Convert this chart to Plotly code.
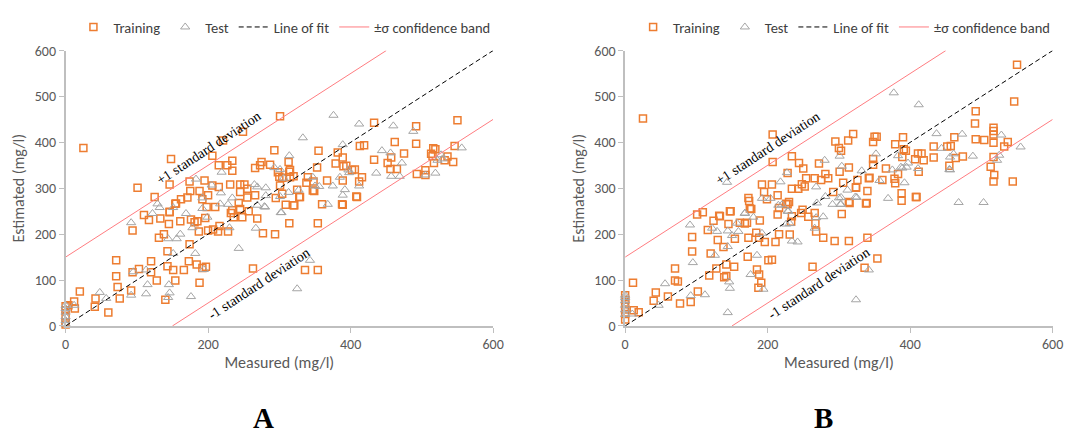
import plotly.graph_objects as go

# ---------------- Panel A data (mg/l) ----------------
a_train_x = [25, 301, 249, 221, 148, 206, 101, 125, 146, 174, 195, 188, 175, 215, 227, 234, 234, 206, 215, 231,
             200, 192, 162, 171, 154, 146, 245, 245, 251, 255, 255, 266, 266, 273, 275, 287, 293, 295, 301, 304,
             314, 313, 315, 320, 320, 325, 329, 338, 348, 353, 355, 349, 360, 367, 379, 382, 389, 390, 389, 389,
             406, 413, 419, 412, 416, 409, 433, 433, 452, 456, 465, 462, 457, 475, 492, 492, 493, 505, 505, 513,
             516, 515, 517, 519, 532, 536, 544, 546, 550, 298, 198, 243, 245, 234, 304, 328, 321, 314, 347, 388,
             408, 354, 336, 354, 300, 315, 340, 394, 402,
             110, 117, 133, 146, 145, 161, 155, 176, 185, 196, 210, 216, 207, 200, 214, 232, 236, 248, 257, 269,
             277, 294, 309, 181, 187, 138, 131, 174, 143, 143, 151, 166, 173, 184, 192, 197, 188, 154, 140, 128,
             120, 120, 103, 94, 94, 92, 71, 71, 73, 76, 60, 42, 41, 20, 12, 13, 4, 263, 228, 0, 0, 0, 0, 0]
a_train_y = [388, 457, 423, 404, 364, 371, 301, 281, 308, 315, 317, 294, 294, 350, 350, 360, 338, 306, 303, 308,
             285, 276, 276, 280, 266, 248, 308, 292, 308, 299, 280, 285, 344, 350, 357, 351, 383, 279, 306, 323,
             336, 357, 324, 326, 263, 297, 281, 312, 315, 345, 382, 294, 265, 317, 354, 378, 367, 348, 317, 264,
             341, 392, 394, 315, 324, 281, 443, 362, 355, 342, 342, 401, 367, 376, 435, 397, 331, 339, 329, 375,
             387, 370, 355, 385, 361, 369, 357, 392, 448, 335, 259, 268, 255, 252, 288, 281, 263, 224, 295, 265,
             282, 224, 122, 122, 325, 340, 324, 349, 340,
             242, 231, 234, 249, 222, 228, 267, 232, 228, 235, 259, 218, 210, 208, 206, 246, 237, 237, 250, 234,
             202, 200, 264, 226, 206, 200, 192, 178, 163, 130, 122, 122, 141, 134, 126, 129, 94, 99, 57, 99,
             117, 141, 124, 117, 208, 77, 143, 108, 85, 60, 29, 60, 42, 75, 53, 38, 45, 125, 206, 43, 34, 22, 8, 3]

a_test_x = [129, 132, 151, 183, 205, 219, 218, 217, 228, 234, 192, 192, 199, 169, 265, 269, 281, 269, 280, 281,
            293, 301, 306, 314, 303, 301, 327, 333, 347, 350, 368, 375, 376, 385, 389, 392, 397, 398, 389, 412,
            412, 436, 444, 456, 460, 457, 469, 472, 488, 505, 519, 522, 527, 529, 556, 356, 302, 313,
            92, 113, 115, 92, 95, 113, 122, 144, 151, 156, 161, 178, 182, 194, 176, 145, 146, 144, 243, 230,
            267, 279, 325, 343, 12, 48, 57, 0, 0, 0, 0, 0, 0]
a_test_y = [266, 258, 258, 320, 307, 335, 290, 266, 265, 279, 279, 256, 237, 245, 308, 303, 301, 263, 259, 284,
            345, 341, 322, 371, 247, 282, 296, 410, 324, 305, 265, 305, 459, 324, 285, 297, 340, 334, 395, 440,
            305, 333, 382, 377, 436, 326, 326, 355, 424, 329, 333, 361, 373, 364, 388, 304, 247, 291,
            225, 70, 90, 67, 118, 122, 245, 190, 158, 190, 200, 214, 158, 123, 64, 90, 72, 62, 169, 214,
            213, 260, 81, 143, 45, 73, 60, 45, 38, 30, 20, 12, 4]

# ---------------- Panel B data (mg/l) ----------------
b_train_x = [25, 550, 546, 492, 491, 492, 504, 517, 517, 517, 517, 513, 517, 518, 517, 537, 532, 544, 462, 457,
             452, 455, 464, 474, 433, 433, 416, 411, 407, 419, 412, 409, 394, 391, 389, 390, 383, 379, 379, 388,
             388, 366, 353, 350, 348, 348, 348, 342, 340, 338, 326, 324, 314, 320, 313, 295, 300, 303, 301, 306,
             314, 292, 285, 281, 275, 272, 266, 254, 252, 248, 243, 250, 244, 234, 234, 228, 207, 207, 206, 192,
             195, 214, 226, 230, 216, 199, 173, 174, 177, 133, 148, 101, 408, 324, 315, 339, 378, 361, 343,
             109, 116, 124, 132, 94, 94, 120, 118, 128, 130, 138, 145, 147, 154, 139, 142, 142, 153, 161, 168,
             171, 173, 175, 172, 184, 188, 189, 185, 188, 191, 187, 196, 201, 206, 214, 211, 216, 231, 233, 234,
             228, 247, 249, 257, 266, 267, 268, 278, 263, 294, 314, 304, 340, 336, 354, 11, 43, 40, 60, 77,
             92, 102, 70, 70, 74, 12, 19, 0, 0, 0, 0, 0, 0]
b_train_y = [452, 569, 489, 468, 441, 407, 405, 432, 425, 417, 399, 347, 368, 329, 315, 401, 391, 315, 411, 392,
             391, 349, 366, 369, 391, 367, 376, 376, 363, 361, 336, 281, 382, 385, 368, 411, 331, 396, 311, 289,
             273, 343, 412, 412, 401, 364, 351, 322, 294, 267, 318, 301, 270, 418, 404, 402, 388, 382, 336, 312,
             345, 292, 322, 331, 318, 354, 322, 322, 304, 309, 299, 343, 355, 299, 370, 333, 357, 417, 308, 308,
             292, 285, 266, 270, 257, 276, 279, 272, 255, 239, 250, 243, 281, 302, 268, 268, 321, 318, 323,
             248, 209, 229, 240, 194, 162, 158, 110, 125, 187, 172, 222, 250, 190, 106, 109, 134, 129, 225, 223,
             225, 192, 256, 151, 203, 192, 230, 123, 112, 94, 83, 183, 143, 144, 243, 183, 200, 199, 227, 239,
             265, 246, 253, 238, 246, 224, 206, 192, 129, 185, 185, 244, 192, 127, 147, 94, 73, 55, 64, 49,
             52, 75, 125, 99, 97, 34, 30, 67, 57, 47, 36, 26, 14]

b_test_x = [377, 412, 143, 280, 227, 218, 301, 304, 312, 325, 303, 291, 303, 268, 281, 269, 220, 229, 204, 192,
            168, 332, 352, 357, 369, 375, 383, 387, 392, 397, 411, 437, 444, 456, 456, 461, 468, 473, 488, 503,
            522, 525, 528, 555, 455, 395, 389, 300, 323, 302,
            91, 95, 56, 47, 10, 92, 112, 122, 126, 129, 144, 146, 147, 144, 144, 150, 159, 157, 168, 185,
            180, 176, 194, 192, 215, 226, 228, 231, 234, 242, 266, 268, 278, 324, 342, 0, 0, 0, 0, 0, 0]
b_test_y = [508, 482, 313, 361, 334, 314, 370, 348, 296, 280, 280, 265, 265, 303, 282, 268, 264, 250, 278, 278,
            245, 338, 375, 317, 278, 340, 371, 346, 312, 355, 343, 419, 387, 368, 340, 375, 269, 418, 370, 269,
            361, 372, 416, 390, 341, 346, 344, 279, 281, 265,
            220, 138, 92, 45, 26, 66, 68, 213, 154, 206, 29, 96, 82, 173, 207, 197, 206, 224, 246, 154,
            237, 112, 80, 202, 263, 222, 250, 223, 185, 183, 213, 236, 238, 57, 122, 67, 62, 55, 45, 35, 25]

# Line of fit (1:1) and the ±1σ band (σ = 150 mg/l)
fit_x = [0, 600]
fit_y = [0, 600]
sigma = 150
axis_max = 600

ORANGE = "#ED7D31"
GREY = "#A5A5A5"
BAND = "#FF7C80"
TEXT = "#595959"
SANS = "Carlito, Lato, sans-serif"
SERIF = "Liberation Serif, Times New Roman, serif"

fig = go.Figure()


def add_panel(tx, ty, sx, sy, xref, yref, legend):
    fig.add_trace(go.Scatter(
        x=tx, y=ty, mode="markers", name="Training", legend=legend,
        xaxis=xref, yaxis=yref, cliponaxis=False,
        marker=dict(symbol="square-open", size=7, color=ORANGE, line=dict(width=1.5, color=ORANGE))))
    fig.add_trace(go.Scatter(
        x=sx, y=sy, mode="markers", name="Test", legend=legend,
        xaxis=xref, yaxis=yref, cliponaxis=False,
        marker=dict(symbol="triangle-up-open", size=8, color=GREY, line=dict(width=1, color=GREY))))
    fig.add_trace(go.Scatter(
        x=fit_x, y=fit_y, mode="lines", name="Line of fit", legend=legend,
        xaxis=xref, yaxis=yref,
        line=dict(color="black", width=1, dash="5px,3px")))
    fig.add_trace(go.Scatter(
        x=[0, axis_max - sigma], y=[sigma, axis_max], mode="lines", name="±σ confidence band",
        legend=legend, legendgroup=legend + "band", xaxis=xref, yaxis=yref,
        line=dict(color=BAND, width=1)))
    fig.add_trace(go.Scatter(
        x=[sigma, axis_max], y=[0, axis_max - sigma], mode="lines", showlegend=False,
        legend=legend, legendgroup=legend + "band", xaxis=xref, yaxis=yref,
        line=dict(color=BAND, width=1)))


add_panel(a_train_x, a_train_y, a_test_x, a_test_y, "x", "y", "legend")
add_panel(b_train_x, b_train_y, b_test_x, b_test_y, "x2", "y2", "legend2")

axis_common = dict(
    range=[0, axis_max], showgrid=False, zeroline=False, showline=True,
    linecolor="#BFBFBF", linewidth=1.5, ticks="outside", ticklen=5, tickcolor="#BFBFBF",
    tickfont=dict(family=SANS, size=14, color=TEXT),
)
x_common = dict(axis_common, dtick=200, title=dict(text="Measured (mg/l)",
                font=dict(family=SANS, size=16, color=TEXT), standoff=4))
y_common = dict(axis_common, dtick=100, title=dict(text="Estimated (mg/l)",
                font=dict(family=SANS, size=16, color=TEXT), standoff=6))

y_dom = [0.2484, 0.8993]
legend_common = dict(orientation="h", yanchor="middle", y=0.955, xanchor="left",
                     font=dict(family=SANS, size=14.5, color="#404040"),
                     bgcolor="rgba(0,0,0,0)", itemwidth=30)

annotations = []
for xr, yr in (("x", "y"), ("x2", "y2")):
    annotations.append(dict(x=200, y=387, xref=xr, yref=yr, text="+1 standard deviation",
                            showarrow=False, textangle=-33.4,
                            font=dict(family=SERIF, size=14, color="black")))
    annotations.append(dict(x=272, y=92, xref=xr, yref=yr, text="-1 standard deviation",
                            showarrow=False, textangle=-33.4,
                            font=dict(family=SERIF, size=14, color="black")))
for label, xp in (("A", 0.2447), ("B", 0.773)):
    annotations.append(dict(x=xp, y=0.03, xref="paper", yref="paper", text="<b>%s</b>" % label,
                            showarrow=False, xanchor="center", yanchor="middle",
                            font=dict(family=SERIF, size=29, color="black")))

fig.update_layout(
    width=1075, height=440,
    margin=dict(l=0, r=0, t=0, b=0),
    paper_bgcolor="white", plot_bgcolor="white",
    xaxis=dict(x_common, domain=[0.0581, 0.4614], anchor="y"),
    yaxis=dict(y_common, domain=y_dom, anchor="x"),
    xaxis2=dict(x_common, domain=[0.586, 0.9893], anchor="y2"),
    yaxis2=dict(y_common, domain=y_dom, anchor="x2"),
    legend=dict(legend_common, x=0.0655),
    legend2=dict(legend_common, x=0.5935),
    annotations=annotations,
)

fig.write_html("out.html")
